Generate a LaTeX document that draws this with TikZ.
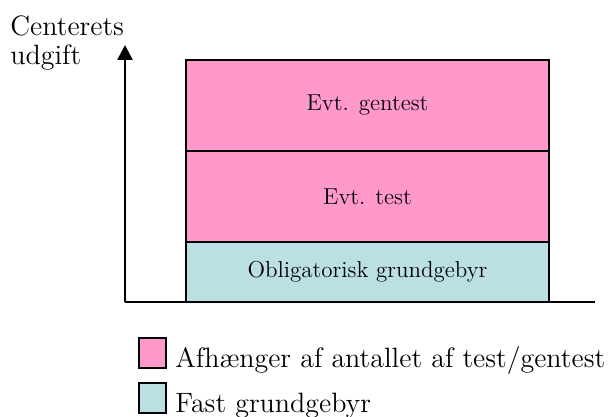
\documentclass[tikz,border=0pt]{standalone}
\usetikzlibrary{arrows.meta,positioning}
\definecolor{varcol}{RGB}{255,153,204}
\definecolor{fixcol}{RGB}{187,224,227}

\begin{document}
\begin{tikzpicture}[x=1pt,y=1pt]
\tikzstyle{seg}=[draw,line width=1pt,outer sep=0pt,inner sep=0pt,minimum width=181.5pt,font=\fontsize{11.5}{13}\selectfont]
\tikzstyle{axis}=[line width=1.3pt]
\tikzstyle{legbox}=[draw,line width=1pt,outer sep=0pt,inner sep=0pt,minimum width=13.5pt,minimum height=15pt]
\tikzstyle{legtext}=[inner sep=0pt,font=\fontsize{14}{14.5}\selectfont]
\useasboundingbox (0,0) rectangle (307.5,208.5);
% axes
\coordinate (origin) at (62.5,57.5);
\coordinate (ytop) at (62.5,186);
\coordinate (xend) at (297.5,57.5);
\draw[axis,-{Triangle[length=7.5pt,width=7.5pt]}] (origin) -- (ytop);
\draw[axis] (origin) -- (xend);
\node[legtext,anchor=base west,align=left] (ylabel) at (5,176) {Centerets\\udgift};
% stacked bar
\node[seg,fill=fixcol,minimum height=30pt,anchor=south west] (base) at (93,57.5) {Obligatorisk grundgebyr};
\node[seg,fill=varcol,minimum height=45.5pt,above=0pt of base] (test) {Evt. test};
\node[seg,fill=varcol,minimum height=45.5pt,above=0pt of test] (gentest) {Evt. gentest};
% legend
\node[legbox,fill=varcol] (legvar) at (76.25,32) {};
\node[legbox,fill=fixcol] (legfix) at (76.25,9.5) {};
\node[legtext,anchor=base west] (legvartext) at ([xshift=4.5pt]legvar.south east) {Afhænger af antallet af test/gentest};
\node[legtext,anchor=base west] (legfixtext) at ([xshift=4.5pt]legfix.south east) {Fast grundgebyr};
\end{tikzpicture}
\end{document}
